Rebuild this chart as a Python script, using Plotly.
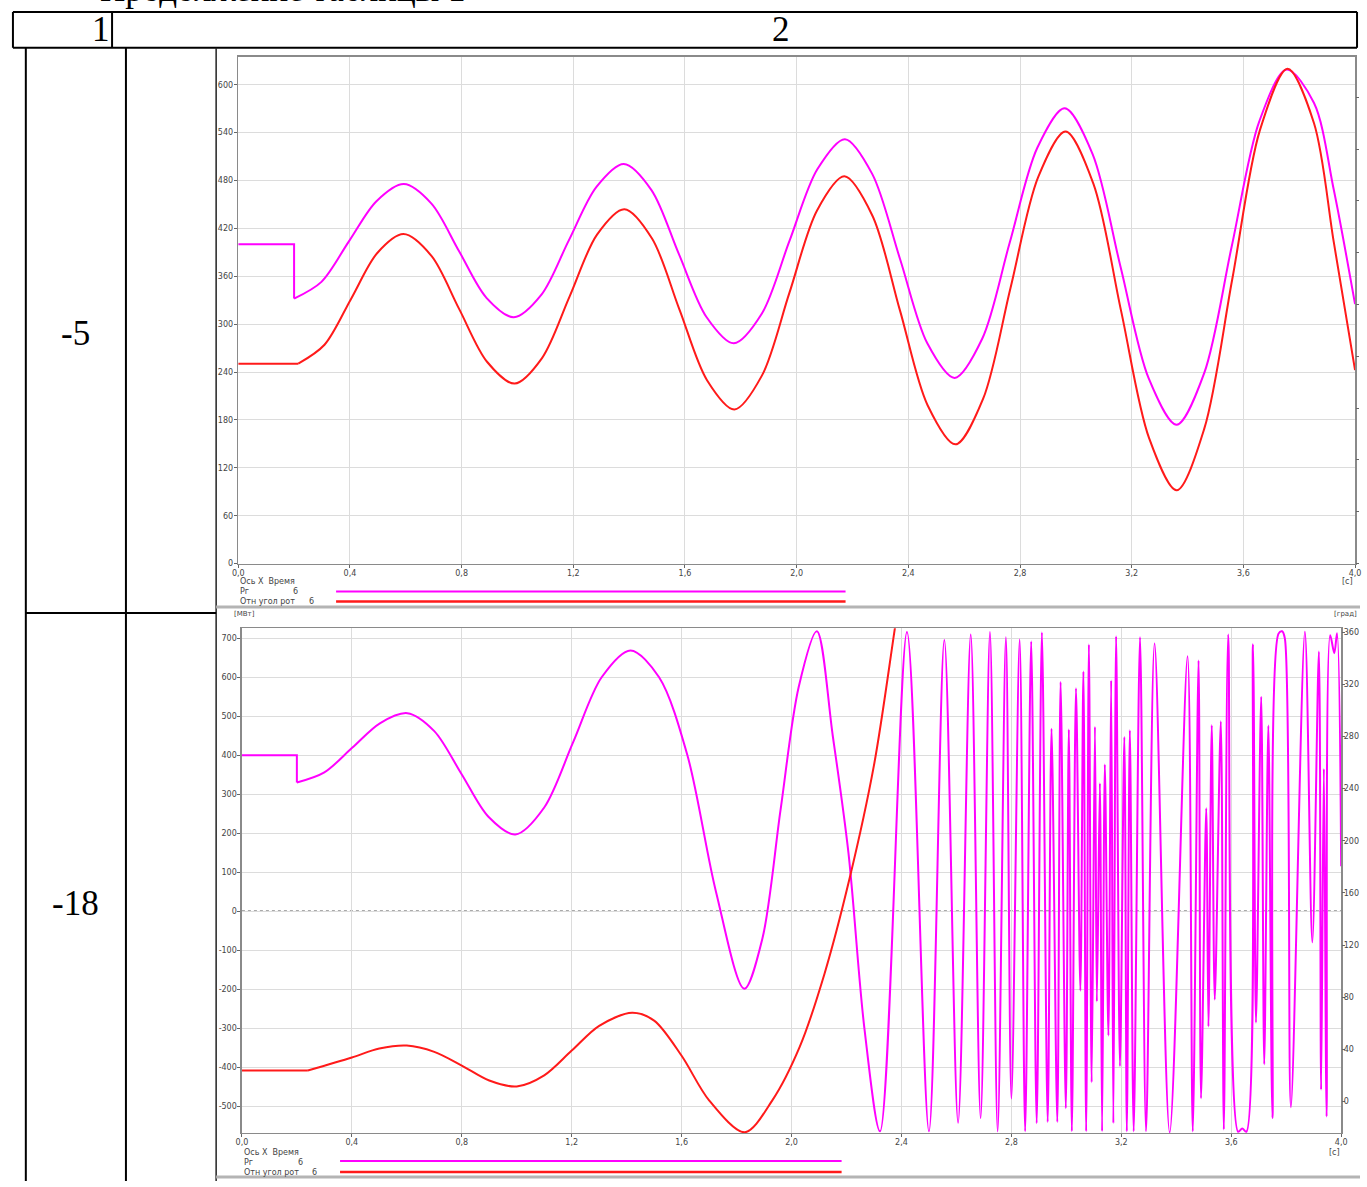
import plotly.graph_objects as go

W, H = 1367, 1187
def px(x):
    return x / W
def py(y):
    return 1 - y / H

MAG = "#ff00ff"
RED = "#ff1a1a"
GRID = "#dcdcdc"
AXC = "#8a8a8a"
TXT = "#444444"

# ---------------- data ----------------
x_tick_vals = [0.0, 0.4, 0.8, 1.2, 1.6, 2.0, 2.4, 2.8, 3.2, 3.6, 4.0]
x_tick_text = ["0,0", "0,4", "0,8", "1,2", "1,6", "2,0", "2,4", "2,8", "3,2", "3,6", "4,0"]

top_left_ticks = [0, 60, 120, 180, 240, 300, 360, 420, 480, 540, 600]
top_right_ticks = [0, 60, 120, 180, 240, 300, 360, 420, 480, 540]
bot_left_ticks = [-500, -400, -300, -200, -100, 0, 100, 200, 300, 400, 500, 600, 700]
bot_left_text = ["-500", "-400", "-300", "-200", "-100", "0", "100", "200", "300", "400", "500", "600", "700"]
bot_right_ticks = [0, 40, 80, 120, 160, 200, 240, 280, 320, 360]

# top chart (case -5): Pг, MW (left axis)
top_pg_t_step = [0.0, 0.2, 0.2]
top_pg_v_step = [400, 400, 332]
top_pg_t = [0.2, 0.298, 0.397, 0.495, 0.593, 0.692, 0.79, 0.889, 0.987, 1.086, 1.184, 1.283, 1.381,
            1.48, 1.578, 1.677, 1.775, 1.875, 1.974, 2.074, 2.173, 2.271, 2.37, 2.468, 2.566,
            2.665, 2.763, 2.862, 2.96, 3.06, 3.16, 3.261, 3.361, 3.46, 3.558, 3.657, 3.755,
            3.853, 3.924, 4.0]
top_pg_v = [332, 353, 404, 454, 475.5, 451, 392, 333, 308.7, 337, 405, 472, 500.7,
            468, 388, 309, 276, 313, 404, 494, 531.8, 488, 382, 276, 232.7,
            282, 402, 521, 570.5, 513, 372, 232, 174, 239, 397, 554, 619,
            577, 468, 325]

# top chart: relative rotor angle (right axis)
top_ang_t_step = [0.0, 0.215]
top_ang_v_step = [231.6, 231.6]
top_ang_t = [0.215, 0.309, 0.404, 0.498, 0.592, 0.692, 0.791, 0.891, 0.99, 1.088, 1.187, 1.285, 1.383,
             1.482, 1.58, 1.679, 1.777, 1.876, 1.974, 2.073, 2.171, 2.271, 2.37, 2.469, 2.569,
             2.668, 2.766, 2.865, 2.963, 3.063, 3.162, 3.262, 3.361, 3.46, 3.56, 3.659, 3.758,
             3.853, 3.924, 4.0]
top_ang_v = [231.6, 253.5, 306.6, 359.7, 381.6, 356.3, 295, 233.8, 208.5, 238, 309.5, 381, 410.4,
             376.5, 294.5, 212.4, 178.5, 218, 313.5, 409, 448.5, 403.2, 293.3, 183.4, 138.1,
             191, 319.3, 447.5, 500.4, 439.8, 292.7, 145.6, 85, 156.3, 329, 501.7, 573,
             510, 372, 224]

# bottom chart (case -18): Pг, MW (left axis)
bot_pg_t_step = [0.0, 0.2, 0.2]
bot_pg_v_step = [400, 400, 330]
bot_pg_t = [0.2, 0.3, 0.401, 0.502, 0.602, 0.7, 0.799, 0.897, 0.995, 1.1, 1.205, 1.309, 1.414,
            1.518, 1.621, 1.725, 1.828, 1.894, 1.96, 2.026, 2.092, 2.15, 2.207, 2.265, 2.322,
            2.42, 2.50, 2.556, 2.606, 2.652, 2.688, 2.722, 2.75, 2.78, 2.80, 2.83, 2.85, 2.872, 2.892,
            2.911, 2.932, 2.946, 2.967, 2.979, 2.998, 3.009, 3.02, 3.035, 3.051, 3.062, 3.072, 3.082,
            3.092, 3.104, 3.111, 3.122, 3.13, 3.14, 3.153, 3.163, 3.171, 3.181, 3.195, 3.211, 3.22,
            3.231, 3.245, 3.268, 3.29, 3.321, 3.376, 3.441, 3.46, 3.481, 3.49, 3.509, 3.517, 3.529,
            3.54, 3.562, 3.573, 3.589, 3.625, 3.64, 3.655, 3.679, 3.69, 3.709, 3.72, 3.735, 3.75,
            3.772, 3.785, 3.795, 3.817, 3.868, 3.895, 3.919, 3.927, 3.937, 3.947, 3.96, 3.975, 3.985, 4.0]
bot_pg_v = [330, 356, 419, 482, 508, 462, 352, 242, 196.7, 266, 433, 600, 669,
            600, 400, 50, -199, -70, 260, 575, 718, 450, 150, -300, -565,
            716, -565, 696, -543, 710, -531, 716, -565, 703, -481, 697, -565, 692, -544,
            715, -541, 468, -541, 588, -506, 466, -565, 572, -204, 615, -565, 684,
            -439, 473, -232, 328, -565, 376, -319, 592, -544, 705, -398, 447, -565,
            464, -565, 703, -565, 687, -568, 654, -565, 643, -480, 264, -296, 477,
            -227, 487, -560, 710, -566, -558, -566, 685, -286, 550, -393, 476, -531,
            712, 718, 700, -503, 717, -80, 666, -458, 365, -527, 708, 662, 713, 115]

# bottom chart: relative rotor angle, degrees (right axis)
bot_ang_t_step = [0.0, 0.24]
bot_ang_v_step = [23.7, 23.7]
bot_ang_t = [0.24, 0.4, 0.5, 0.6, 0.7, 0.8, 0.9, 1.0, 1.1, 1.2, 1.3, 1.42, 1.5, 1.6, 1.7,
             1.83, 1.93, 2.03, 2.12, 2.21, 2.30, 2.376, 2.45]
bot_ang_v = [23.7, 33.7, 40.5, 42.8, 38, 27.5, 16, 11.5, 20, 39, 58, 68, 62, 35, 0.8,
             -23.7, 0.8, 42, 98, 170, 258, 363, 470]

# ---------------- figure ----------------
fig = go.Figure()

def line(x, y, color, xa, ya, shape="linear"):
    fig.add_trace(go.Scatter(x=x, y=y, mode="lines", xaxis=xa, yaxis=ya,
                             line=dict(color=color, width=2, shape=shape, smoothing=0.9),
                             showlegend=False, hoverinfo="skip"))

line(top_pg_t_step, top_pg_v_step, MAG, "x", "y")
line(top_pg_t, top_pg_v, MAG, "x", "y", "spline")
line(top_ang_t_step, top_ang_v_step, RED, "x", "y2")
line(top_ang_t, top_ang_v, RED, "x", "y2", "spline")

line(bot_pg_t_step, bot_pg_v_step, MAG, "x2", "y3")
line(bot_pg_t, bot_pg_v, MAG, "x2", "y3", "spline")
line(bot_ang_t_step, bot_ang_v_step, RED, "x2", "y4")
line(bot_ang_t, bot_ang_v, RED, "x2", "y4", "spline")

tickfont = dict(family="DejaVu Sans", size=8, color=TXT)
common_x = dict(tickvals=x_tick_vals, ticktext=x_tick_text, showgrid=True, gridcolor=GRID,
                gridwidth=1, ticks="outside", ticklen=3, tickcolor="#666", showline=True,
                linecolor=AXC, linewidth=1.5, mirror=True, zeroline=False, tickfont=tickfont,
                range=[0, 4], fixedrange=True, ticklabelstandoff=-2)
common_y = dict(showgrid=True, gridcolor=GRID, gridwidth=1, ticks="outside", ticklen=3,
                tickcolor="#666", showline=True, linecolor=AXC, linewidth=1.5, mirror=True,
                zeroline=False, tickfont=tickfont, fixedrange=True, ticklabelstandoff=-1)

fig.update_layout(
    width=W, height=H, margin=dict(l=0, r=0, t=0, b=0, pad=0),
    paper_bgcolor="white", plot_bgcolor="white", showlegend=False,
    xaxis=dict(domain=[px(234.3), px(1361)], anchor="y", **common_x),
    yaxis=dict(domain=[py(566), py(57)], anchor="x", range=[0, 635],
               tickvals=top_left_ticks, **common_y),
    # right angle axis of the top chart: its labels lie beyond the page edge in the source
    yaxis2=dict(overlaying="y", side="right", anchor="x", range=[0, 587],
                tickvals=top_right_ticks, showticklabels=False, showgrid=False,
                ticks="outside", ticklen=3, tickcolor="#666", showline=False,
                zeroline=False, fixedrange=True),
    xaxis2=dict(domain=[px(238), px(1347)], anchor="y3", **common_x),
    yaxis3=dict(domain=[py(1137.7), py(631)], anchor="x2", range=[-569, 725.6],
                tickvals=bot_left_ticks, ticktext=bot_left_text, **common_y),
    yaxis4=dict(overlaying="y3", side="right", anchor="x2", range=[-24.2, 363],
                tickvals=bot_right_ticks, showgrid=False, ticks="outside", ticklen=3,
                tickcolor="#666", showline=False, zeroline=False, tickfont=tickfont,
                fixedrange=True, ticklabelstandoff=-3),
)

shapes = []
def pline(x0, y0, x1, y1, color="black", width=2, dash=None):
    d = dict(type="line", xref="paper", yref="paper", x0=px(x0), y0=py(y0), x1=px(x1), y1=py(y1),
             line=dict(color=color, width=width))
    if dash:
        d["line"]["dash"] = dash
    shapes.append(d)

# table lines
pline(7, 12, 1363, 12)
pline(7, 48, 1363, 48)
pline(7, 12, 7, 48)
pline(1363, 12, 1363, 48)
pline(107, 12, 107, 48)
pline(20, 48, 20, 1186)
pline(121, 48, 121, 1186)
pline(212, 48, 212, 1186, color="#222", width=1.5)
pline(20, 615.5, 212, 615.5)
# screenshot borders
pline(212, 609.5, 1366, 609.5, color="#b4b4b4", width=3)
pline(212, 1182, 1366, 1182, color="#b4b4b4", width=3)
# legend sample lines
pline(333, 594, 847, 594, color=MAG, width=2)
pline(333, 604, 847, 604, color=RED, width=2.5)
pline(337, 1166, 843, 1166, color=MAG, width=2)
pline(337, 1177, 843, 1177, color=RED, width=2.5)
# zero line (dotted) of bottom chart
shapes.append(dict(type="line", xref="x2", yref="y3", x0=0, x1=4, y0=0, y1=0, layer="below",
                   line=dict(color="#555555", width=1.2, dash="dot")))
fig.update_layout(shapes=shapes)

ann = []
def text(x, y, s, size=8, xanchor="left", family="DejaVu Sans", color=TXT, yanchor="middle"):
    ann.append(dict(xref="paper", yref="paper", x=px(x), y=py(y), text=s, showarrow=False,
                    xanchor=xanchor, yanchor=yanchor,
                    font=dict(family=family, size=size, color=color)))

SERIF = "Liberation Serif"
text(93, -11, "Продолжение таблицы 1", size=35, family=SERIF, color="black")
text(107, 30, "1", size=35, xanchor="right", family=SERIF, color="black")
text(782, 30, "2", size=35, xanchor="center", family=SERIF, color="black")
text(70, 335, "-5", size=35, xanchor="center", family=SERIF, color="black")
text(70, 907, "-18", size=35, xanchor="center", family=SERIF, color="black")

text(234, 584, "Ось X  Время")
text(234, 594, "Pг")
text(288, 594, "6")
text(234, 604, "Отн угол рот")
text(304, 604, "6")
text(1361, 584, "[c]", xanchor="right")
text(238, 1157, "Ось X  Время")
text(238, 1167, "Pг")
text(293, 1167, "6")
text(238, 1177, "Отн угол рот")
text(307, 1177, "6")
text(1348, 1157, "[c]", xanchor="right")
text(228, 617, "[МВт]", size=7)
text(1338, 617, "[град]", size=7)
fig.update_layout(annotations=ann)

fig.write_html(
    "out.html",
    config={"displayModeBar": False, "staticPlot": True},
    post_script=(
        "document.documentElement.style.margin='0';document.body.style.margin='0';"
        "document.body.style.padding='0';document.documentElement.style.overflow='hidden';"
        "document.body.style.overflow='hidden';"
    ),
)
